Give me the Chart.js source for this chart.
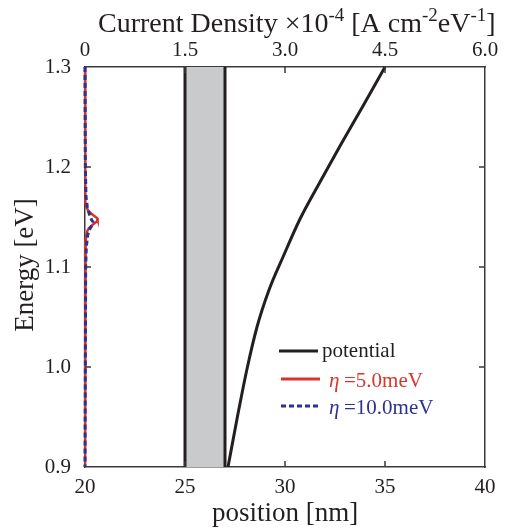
<!DOCTYPE html>
<html>
<head>
<meta charset="utf-8">
<script src="https://cdn.jsdelivr.net/npm/chart.js@4.4.1/dist/chart.umd.min.js"></script>
<style>
  html, body { margin: 0; padding: 0; background: #fff; }
  #wrap { width: 508px; height: 529px; }
</style>
</head>
<body>
<div id="wrap"><canvas id="chart"></canvas></div>
<script>
// --- data ---
const positionTicks = [20, 25, 30, 35, 40];
const energyTicks = [0.9, 1.0, 1.1, 1.2, 1.3];
const currentTicks = [0, 1.5, 3.0, 4.5, 6.0];

// tunnel barrier (position, nm)
const barrierEdges = [25, 27];

// potential profile: position [nm] vs energy [eV]
const potPosition = [27.15, 27.6, 28.1, 28.6, 29.2, 29.9, 30.75, 31.75, 32.75, 33.9, 35.0];
const potEnergy   = [0.900, 0.948, 0.998, 1.040, 1.077, 1.110, 1.148, 1.185, 1.221, 1.261, 1.300];

// current density (x1e-4) vs energy
const jEnergy = [1.30, 1.20, 1.17, 1.165, 1.16, 1.156, 1.152, 1.149, 1.147, 1.145, 1.142, 1.139, 1.136, 1.132, 1.126, 1.12, 1.10, 1.00, 0.90];
const jEta5   = [0.0, 0.0, 0.005, 0.01, 0.02, 0.05, 0.12, 0.18, 0.19, 0.17, 0.11, 0.06, 0.035, 0.02, 0.01, 0.005, 0.003, 0.0, 0.0];
const jEta10  = [0.0, 0.005, 0.015, 0.025, 0.035, 0.05, 0.07, 0.09, 0.10, 0.12, 0.11, 0.08, 0.06, 0.04, 0.03, 0.02, 0.01, 0.005, 0.0];

const SERIF = '"Liberation Serif", "DejaVu Serif", serif';
const RED = '#d8352a';
const BLUE = '#2d3192';
const INK = '#231f20';
const FRAME = '#3a3a3a';

const toPts = (xs, ys) => xs.map((x, i) => ({ x: x, y: ys[i] }));

// inward ticks, titles and legend
const decorations = {
    id: 'decorations',
    afterDraw(chart) {
        const ctx = chart.ctx;
        const area = chart.chartArea;
        const { x, x2, y } = chart.scales;
        const len = 6;

        ctx.save();
        ctx.strokeStyle = FRAME;
        ctx.lineWidth = 1.5;
        ctx.beginPath();
        positionTicks.slice(1, -1).forEach(v => {
            const px = x.getPixelForValue(v);
            ctx.moveTo(px, area.bottom);
            ctx.lineTo(px, area.bottom - len);
        });
        currentTicks.slice(1, -1).forEach(v => {
            const px = x2.getPixelForValue(v);
            ctx.moveTo(px, area.top);
            ctx.lineTo(px, area.top + len);
        });
        energyTicks.slice(1, -1).forEach(v => {
            const py = y.getPixelForValue(v);
            ctx.moveTo(area.left, py);
            ctx.lineTo(area.left + len, py);
            ctx.moveTo(area.right, py);
            ctx.lineTo(area.right - len, py);
        });
        ctx.stroke();

        // axis titles
        ctx.fillStyle = INK;
        ctx.textBaseline = 'alphabetic';
        ctx.font = '27px ' + SERIF;
        ctx.textAlign = 'center';
        ctx.fillText('position [nm]', (area.left + area.right) / 2, 521);

        ctx.save();
        ctx.translate(33, (area.top + area.bottom) / 2 - 2);
        ctx.rotate(-Math.PI / 2);
        ctx.fillText('Energy [eV]', 0, 0);
        ctx.restore();

        // top title with superscripts
        const parts = [
            ['Current Density \u00d710', false],
            ['-4', true],
            [' [A cm', false],
            ['-2', true],
            ['eV', false],
            ['-1', true],
            [']', false]
        ];
        ctx.textAlign = 'left';
        let cx = 98;
        parts.forEach(([t, sup]) => {
            ctx.font = (sup ? '19px ' : '28px ') + SERIF;
            ctx.fillText(t, cx, sup ? 21 : 32);
            cx += ctx.measureText(t).width;
        });

        // legend
        const rows = [
            { label: 'potential', color: INK, dash: [], y: 351, eta: false },
            { label: '=5.0meV', color: RED, dash: [], y: 379, eta: true },
            { label: '=10.0meV', color: BLUE, dash: [5, 3], y: 406, eta: true }
        ];
        rows.forEach(r => {
            ctx.strokeStyle = r.color;
            ctx.lineWidth = 3;
            ctx.setLineDash(r.dash);
            ctx.beginPath();
            ctx.moveTo(r.eta ? 281 : 279, r.y);
            ctx.lineTo(r.eta ? 320 : 318, r.y);
            ctx.stroke();
            ctx.setLineDash([]);
            ctx.fillStyle = r.color;
            ctx.font = '21px ' + SERIF;
            if (r.eta) {
                ctx.font = 'italic 21px ' + SERIF;
                ctx.fillText('\u03b7', 329, r.y + 8);
                ctx.font = '21px ' + SERIF;
                ctx.fillText(r.label, 344, r.y + 8);
            } else {
                ctx.fillText(r.label, 322, r.y + 6);
            }
        });
        ctx.restore();
    }
};

const labelFont = { family: SERIF, size: 21 };

new Chart(document.getElementById('chart'), {
    type: 'scatter',
    data: {
        datasets: [
            {
                label: 'barrier',
                data: [{ x: barrierEdges[0], y: energyTicks[4] }, { x: barrierEdges[1], y: energyTicks[4] }],
                showLine: true, fill: 'start', backgroundColor: '#c9cacc',
                borderWidth: 0, pointRadius: 0, order: 6
            },
            {
                label: 'barrier left',
                data: [{ x: barrierEdges[0], y: energyTicks[0] }, { x: barrierEdges[0], y: energyTicks[4] }],
                showLine: true, borderColor: INK, borderWidth: 3, pointRadius: 0, order: 5
            },
            {
                label: 'barrier right',
                data: [{ x: barrierEdges[1], y: energyTicks[0] }, { x: barrierEdges[1], y: energyTicks[4] }],
                showLine: true, borderColor: INK, borderWidth: 3, pointRadius: 0, order: 4
            },
            {
                label: 'potential',
                data: toPts(potPosition, potEnergy),
                showLine: true, borderColor: INK, borderWidth: 3, pointRadius: 0,
                cubicInterpolationMode: 'monotone', order: 3
            },
            {
                label: 'eta=5.0meV',
                xAxisID: 'x2',
                data: toPts(jEta5, jEnergy),
                showLine: true, borderColor: RED, borderWidth: 2.5, pointRadius: 0,
                clip: 6, order: 2
            },
            {
                label: 'eta=10.0meV',
                xAxisID: 'x2',
                data: toPts(jEta10, jEnergy),
                showLine: true, borderColor: BLUE, borderWidth: 3, borderDash: [5, 3],
                pointRadius: 0, clip: 6, order: 1
            }
        ]
    },
    options: {
        responsive: true,
        maintainAspectRatio: false,
        animation: false,
        devicePixelRatio: 1,
        layout: { padding: 0 },
        plugins: { legend: { display: false }, tooltip: { enabled: false } },
        scales: {
            x: {
                type: 'linear', position: 'bottom', min: 20, max: 40,
                afterBuildTicks: s => { s.ticks = positionTicks.map(v => ({ value: v })); },
                ticks: { font: labelFont, color: INK, padding: 8, maxRotation: 0 },
                grid: { display: false, drawTicks: false },
                border: { color: FRAME, width: 1.5 },
                afterFit: s => { s.height = 62; }
            },
            x2: {
                type: 'linear', position: 'top', min: 0, max: 6,
                afterBuildTicks: s => { s.ticks = currentTicks.map(v => ({ value: v })); },
                ticks: {
                    font: labelFont, color: INK, padding: 4, maxRotation: 0,
                    callback: v => (v === 0 ? '0' : v.toFixed(1))
                },
                grid: { display: false, drawTicks: false },
                border: { color: FRAME, width: 1.5 },
                afterFit: s => { s.height = 67; }
            },
            y: {
                type: 'linear', position: 'left', min: 0.9, max: 1.3,
                afterBuildTicks: s => { s.ticks = energyTicks.map(v => ({ value: v })); },
                ticks: { font: labelFont, color: INK, padding: 14, callback: v => v.toFixed(1) },
                grid: { display: false, drawTicks: false },
                border: { color: FRAME, width: 1.5 },
                afterFit: s => { s.width = 85; }
            },
            y2: {
                type: 'linear', position: 'right', min: 0.9, max: 1.3,
                ticks: { display: false },
                grid: { display: false, drawTicks: false },
                border: { color: FRAME, width: 1.5 },
                afterFit: s => { s.width = 23; }
            }
        }
    },
    plugins: [decorations]
});
</script>
</body>
</html>
